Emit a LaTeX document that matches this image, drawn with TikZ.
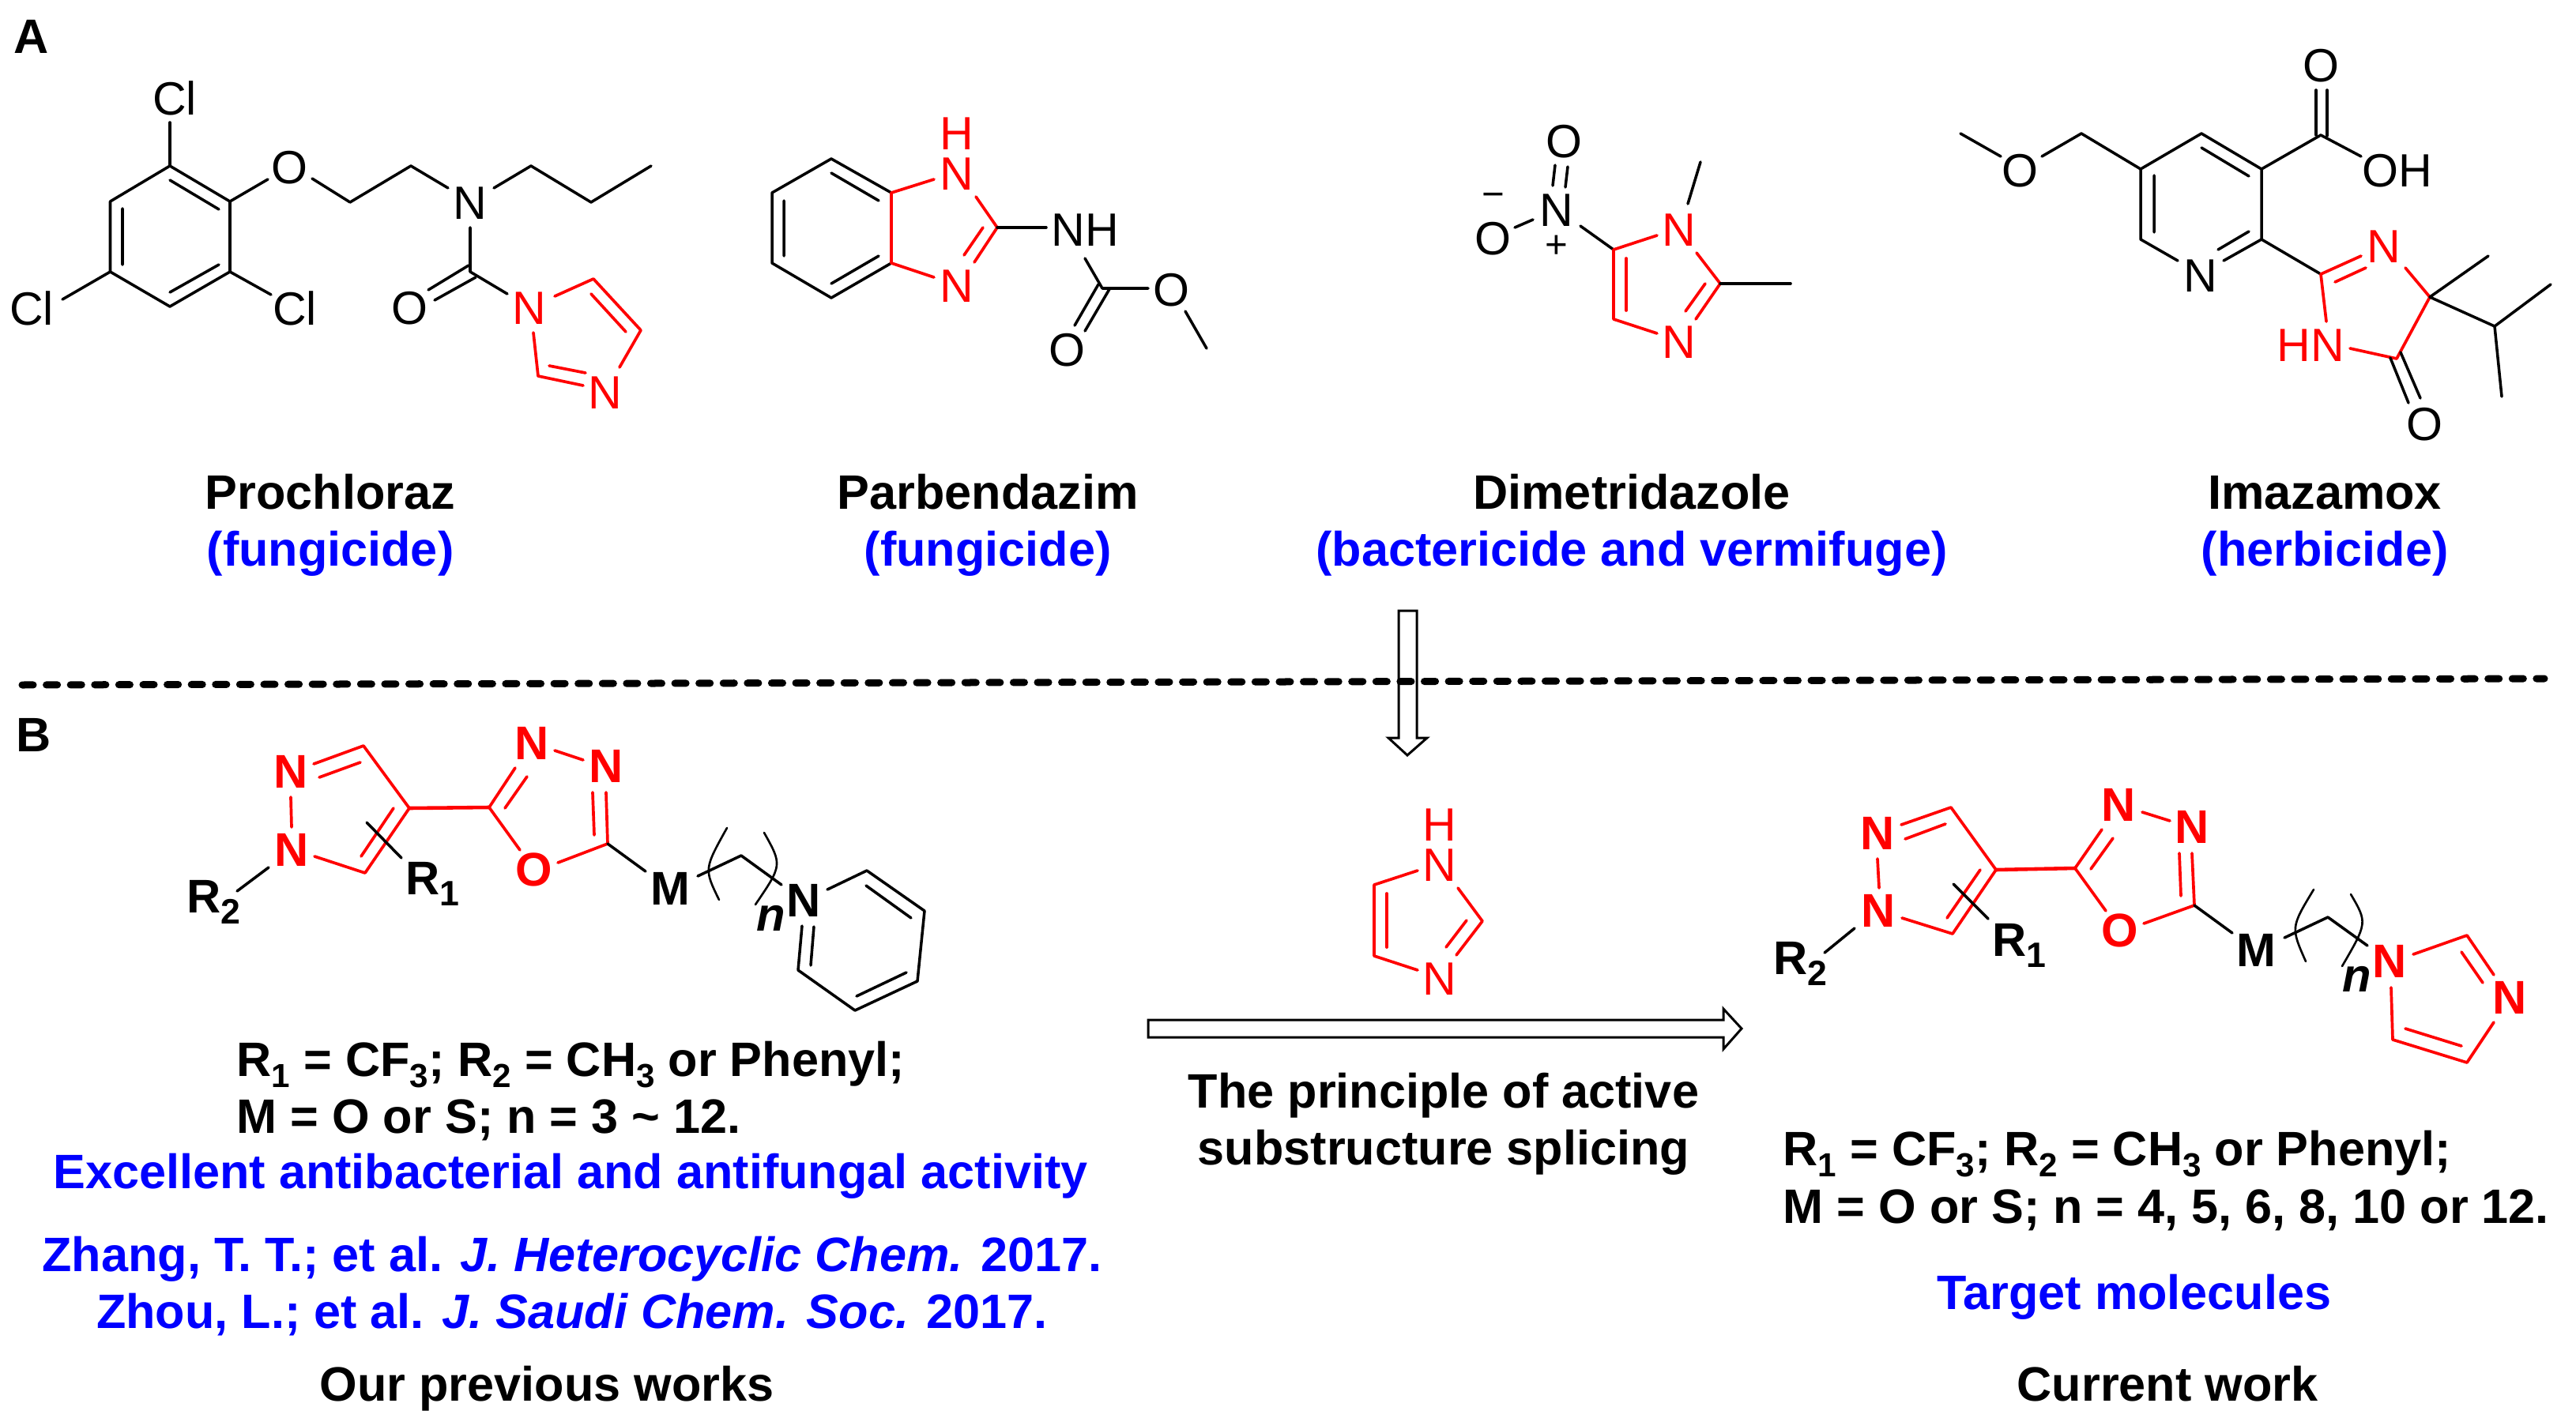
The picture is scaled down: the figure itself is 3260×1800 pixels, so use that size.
\documentclass[tikz,border=0pt]{standalone}
\usepackage{fontspec}
\usepackage{graphicx}
\setmainfont{Liberation Sans}
\definecolor{rd}{RGB}{255,0,0}
\definecolor{bl}{RGB}{0,0,255}
\newcommand{\bigf}{\fontsize{17.4}{20}\selectfont\bfseries}
\newcommand{\atomf}{\fontsize{16.8}{20}\selectfont}
\newcommand{\atomb}{\fontsize{17}{20}\selectfont\bfseries}
\newcommand{\lowr}[1]{\raisebox{-0.23em}{\fontsize{12}{12}\selectfont #1}}
\newcommand{\lowm}[1]{\raisebox{-0.25em}{\fontsize{12.7}{12}\selectfont #1}}
\tikzset{
  bk/.style={draw=black,line width=1pt,line cap=round,line join=round},
  rb/.style={draw=rd,line width=1.05pt,line cap=round,line join=round},
  thin paren/.style={draw=black,line width=0.75pt,line cap=round},
  atom/.style={inner sep=0pt,font=\atomf,text=black},
  ratom/.style={inner sep=0pt,font=\atomf,text=rd},
  batom/.style={inner sep=0pt,font=\atomb,text=black},
  bratom/.style={inner sep=0pt,font=\atomb,text=rd},
  txt/.style={inner sep=0pt,font=\bigf,text=black,anchor=base},
  btxt/.style={inner sep=0pt,font=\bigf,text=bl,anchor=base},
  ltxt/.style={inner sep=0pt,font=\bigf,text=black,anchor=base west},
  hollow/.style={draw=black,line width=0.85pt,line join=miter,fill=none}
}
\begin{document}
\begin{tikzpicture}[x=0.01cm,y=-0.01cm]
\useasboundingbox (0,0) rectangle (3260,1800);

% panel letters
\node[ltxt] (labA) at (17,68) {A};
\node[ltxt] (labB) at (20,951) {B};

% ---------- Prochloraz
\draw[bk] (215,210)--(291,255)--(291,344)--(215,388)--(139.5,344)--(139.5,255)--cycle;
\draw[bk] (215,228)--(277,265) (155,264)--(155,335) (215,370)--(277,335);
\draw[bk] (215,155)--(215,210);
\draw[bk] (291,255)--(339,227);
\draw[bk] (395,226)--(443,256)--(520,210)--(567,238);
\draw[bk] (625,238)--(672,210)--(748,256)--(824,210);
\draw[bk] (595,288)--(595,344)--(642,372);
\draw[bk] (542,367)--(593,336) (550,380)--(602,351);
\draw[bk] (139.5,344)--(79,379);
\draw[bk] (291,344)--(343,373);
\draw[rb] (702,375)--(751,353)--(811,418)--(784,465);
\draw[rb] (748,372)--(792,420);
\draw[rb] (738,488)--(681,476)--(675,421);
\draw[rb] (695,463)--(741,472);
\node[atom] (p1) at (221,124) {Cl};
\node[atom] (p2) at (40,390) {Cl};
\node[atom] (p3) at (373,390) {Cl};
\node[atom] (p4) at (366,212.5) {O};
\node[atom] (p5) at (595,257) {N};
\node[atom] (p6) at (518,390) {O};
\node[ratom] (p7) at (670,390) {N};
\node[ratom] (p8) at (766,497) {N};

% ---------- Parbendazim
\draw[bk] (1128,244)--(1052,201)--(977,244)--(977,333)--(1052,377)--(1128,333);
\draw[bk] (1052,219)--(1112,254) (992,254)--(992,324) (1052,359)--(1112,324);
\draw[rb] (1182,227)--(1128,244)--(1128,333)--(1182,351);
\draw[rb] (1235,249)--(1262,288)--(1233,332);
\draw[rb] (1244,288)--(1220,323);
\draw[bk] (1262,288)--(1324,288);
\draw[bk] (1373,327)--(1395,365)--(1453,365);
\draw[bk] (1390,360)--(1360,412) (1404,366)--(1373,419);
\draw[bk] (1500,394)--(1527,441);
\node[ratom] (b1) at (1211,169) {H};
\node[ratom] (b2) at (1211,220) {N};
\node[ratom] (b3) at (1211,362) {N};
\node[atom] (b4) at (1373,291) {NH};
\node[atom] (b5) at (1482,367) {O};
\node[atom] (b6) at (1350,443) {O};

% ---------- Dimetridazole
\draw[bk] (1968,209)--(1965,235) (1984,211)--(1981,237);
\draw[bk] (1917,288)--(1940,278);
\draw[bk] (2000,286)--(2042,316);
\draw[rb] (2097,298)--(2042,316)--(2042,404)--(2097,422);
\draw[rb] (2058,327)--(2058,393);
\draw[rb] (2147,320)--(2177,359)--(2146,404);
\draw[rb] (2158,359)--(2133,394);
\draw[bk] (2177,359)--(2266,359);
\draw[bk] (2136,258)--(2152,205);
\node[atom] (d1) at (1979,179) {O};
\node[atom] (d2) at (1970,266) {N};
\node[atom] (d3) at (1889,302) {O};
\node[inner sep=0pt,font=\fontsize{14}{14}\selectfont] (d4) at (1890,253) {−};
\node[inner sep=0pt,font=\fontsize{14}{14}\selectfont] (d5) at (1970,312) {+};
\node[ratom] (d6) at (2125,291) {N};
\node[ratom] (d7) at (2125,433) {N};

% ---------- Imazamox
\draw[bk] (2481,169)--(2532,198);
\draw[bk] (2584,198)--(2634,169)--(2709,214);
\draw[bk] (2756,330)--(2709,303)--(2709,214)--(2786,169)--(2862,214)--(2862,303)--(2814,330);
\draw[bk] (2807,316)--(2846,293) (2726,222)--(2726,294) (2786,187)--(2846,223);
\draw[bk] (2862,214)--(2937,171)--(2988,198);
\draw[bk] (2931,114)--(2931,171) (2945,114)--(2945,172);
\draw[bk] (2862,303)--(2937,347);
\draw[rb] (2988,324)--(2937,347)--(2944,407);
\draw[rb] (2955,357)--(2994,339);
\draw[rb] (3044,339)--(3075,376)--(3033,454)--(2974,441);
\draw[bk] (3149,324)--(3075,376)--(3157,413)--(3228,360);
\draw[bk] (3157,413)--(3166,502);
\draw[bk] (3025,453)--(3048,510) (3038,446)--(3063,504);
\node[atom] (i1) at (2556,216) {O};
\node[atom] (i2) at (2785,349) {N};
\node[atom] (i3) at (2937,83) {O};
\node[atom] (i4) at (3034,216) {OH};
\node[ratom] (i5) at (3017,312) {N};
\node[ratom] (i6) at (2924,437) {HN};
\node[atom] (i7) at (3068,537) {O};

% ---------- names upper row
\node[txt] (n1) at (418,644) {Prochloraz};
\node[btxt] (n2) at (418,716) {(fungicide)};
\node[txt] (n3) at (1250,644) {Parbendazim};
\node[btxt] (n4) at (1250,716) {(fungicide)};
\node[txt] (n5) at (2065,644) {Dimetridazole};
\node[btxt] (n6) at (2065,716) {(bactericide and vermifuge)};
\node[txt] (n7) at (2942,644) {Imazamox};
\node[btxt] (n8) at (2942,716) {(herbicide)};

% ---------- divider and arrows
\coordinate (dashL) at (28,867);
\coordinate (dashR) at (3220,859);
\draw[black,line width=2.56pt,line cap=round,dash pattern=on 4pt off 4.7pt] (dashL)--(dashR);
\draw[hollow] (1770,773)--(1793,773)--(1793,934)--(1806,934)--(1781,956)--(1757,934)--(1770,934)--cycle;
\draw[hollow] (1453,1291)--(2181,1291)--(2181,1277)--(2204,1302)--(2181,1328)--(2181,1313)--(1453,1313)--cycle;

% ---------- left compound
\draw[rb] (397,967)--(460,944)--(518,1023)--(462,1105)--(398,1084);
\draw[rb] (404,984)--(456,965) (498,1023)--(457,1084);
\draw[rb] (368,1009)--(369,1047);
\draw[rb,line width=1.3pt] (518,1023)--(619,1022);
\draw[rb] (652,972)--(619,1022)--(658,1076);
\draw[rb] (639,1023)--(667,983);
\draw[rb] (702,950)--(738,962);
\draw[rb] (750,1003)--(752,1057);
\draw[rb] (767,1003)--(769,1068)--(706,1092);
\draw[bk] (769,1068)--(817,1103);
\draw[bk] (883,1109)--(938,1083)--(989,1120);
\draw[thin paren] (920,1048) .. controls (891,1100) .. (910,1139);
\draw[thin paren] (967,1054) .. controls (990,1095) .. (956,1145);
\draw[bk] (464,1041)--(508,1086);
\draw[bk] (340,1098)--(300,1128);
\draw[bk] (1047,1126)--(1097,1102)--(1170,1153)--(1161,1242)--(1082,1279)--(1010,1228)--(1015,1172);
\draw[bk] (1096,1121)--(1153,1162) (1147,1231)--(1084,1261) (1026,1222)--(1030,1173);
\node[bratom] (l1) at (368,977) {N};
\node[bratom] (l2) at (369,1076) {N};
\node[bratom] (l3) at (673,941) {N};
\node[bratom] (l4) at (767,970) {N};
\node[bratom] (l5) at (676,1101) {O};
\node[batom] (l6) at (848,1125) {M};
\node[batom] (l7) at (1017,1140) {N};
\node[batom,font=\atomb\itshape] (l8) at (976,1162) {n};
\node[batom,anchor=base west] (l9) at (236,1155) {R\lowm{2}};
\node[batom,anchor=base west] (l10) at (513,1132) {R\lowm{1}};

% ---------- centre imidazole
\draw[rb] (1794,1102)--(1739,1120)--(1739,1210)--(1794,1228);
\draw[rb] (1755,1131)--(1755,1199);
\draw[rb] (1845,1124)--(1876,1166)--(1843,1209);
\draw[rb] (1856,1165)--(1830,1199);
\node[ratom] (c1) at (1822,1044) {H};
\node[ratom] (c2) at (1822,1095) {N};
\node[ratom] (c3) at (1822,1239) {N};

% ---------- right compound
\draw[rb] (2406,1044)--(2469,1022)--(2526,1101)--(2471,1182)--(2407,1162);
\draw[rb] (2411,1062)--(2462,1043) (2506,1101)--(2464,1162);
\draw[rb] (2376,1087)--(2378,1124);
\draw[rb,line width=1.3pt] (2526,1101)--(2626,1099);
\draw[rb] (2660,1050)--(2626,1099)--(2665,1153);
\draw[rb] (2646,1100)--(2674,1061);
\draw[rb] (2711,1028)--(2746,1039);
\draw[rb] (2758,1080)--(2760,1134);
\draw[rb] (2774,1080)--(2777,1146)--(2713,1169);
\draw[bk] (2777,1146)--(2825,1181);
\draw[bk] (2891,1187)--(2946,1161)--(2996,1197);
\draw[thin paren] (2928,1126) .. controls (2899,1174) .. (2918,1217);
\draw[thin paren] (2975,1132) .. controls (2996,1168) .. (2964,1223);
\draw[bk] (2472,1119)--(2516,1163);
\draw[bk] (2347,1175)--(2309,1206);
\draw[rb] (3054,1208)--(3122,1184)--(3156,1234);
\draw[rb] (3115,1205)--(3142,1244);
\draw[rb] (3156,1294)--(3122,1345)--(3028,1316)--(3026,1250);
\draw[rb] (3115,1324)--(3044,1302);
\node[bratom] (r1) at (2376,1055) {N};
\node[bratom] (r2) at (2377,1153) {N};
\node[bratom] (r3) at (2681,1019) {N};
\node[bratom] (r4) at (2774,1047) {N};
\node[bratom] (r5) at (2683,1178) {O};
\node[batom] (r6) at (2855,1203) {M};
\node[bratom] (r7) at (3024,1217) {N};
\node[bratom] (r8) at (3176,1263) {N};
\node[batom,font=\atomb\itshape] (r9) at (2983,1239) {n};
\node[batom,anchor=base west] (r10) at (2244,1233) {R\lowm{2}};
\node[batom,anchor=base west] (r11) at (2521,1210) {R\lowm{1}};

% ---------- lower texts, left
\node[ltxt] (t1) at (299,1362) {R\lowr{1} = CF\lowr{3}; R\lowr{2} = CH\lowr{3} or Phenyl;};
\node[ltxt] (t2) at (299,1434) {M = O or S; n = 3 \char`\~{} 12.};
\node[btxt] (t3) at (722,1504) {Excellent antibacterial and antifungal activity};
\node[btxt] (t4) at (724,1609) {Zhang, T. T.; et al. \textit{J. Heterocyclic Chem.} 2017.};
\node[btxt] (t5) at (724,1681) {Zhou, L.; et al. \textit{J. Saudi Chem. Soc.} 2017.};
\node[txt] (t6) at (692,1773) {Our previous works};

% ---------- lower texts, centre
\node[txt] (t7) at (1827,1402) {The principle of active};
\node[txt] (t8) at (1827,1474) {substructure splicing};

% ---------- lower texts, right
\node[ltxt] (t9) at (2256,1475) {R\lowr{1} = CF\lowr{3}; R\lowr{2} = CH\lowr{3} or Phenyl;};
\node[ltxt] (t10) at (2256,1548) {M = O or S; n = 4, 5, 6, 8, 10 or 12.};
\node[btxt] (t11) at (2701,1657) {Target molecules};
\node[txt] (t12) at (2743,1773) {Current work};
\end{tikzpicture}
\end{document}
